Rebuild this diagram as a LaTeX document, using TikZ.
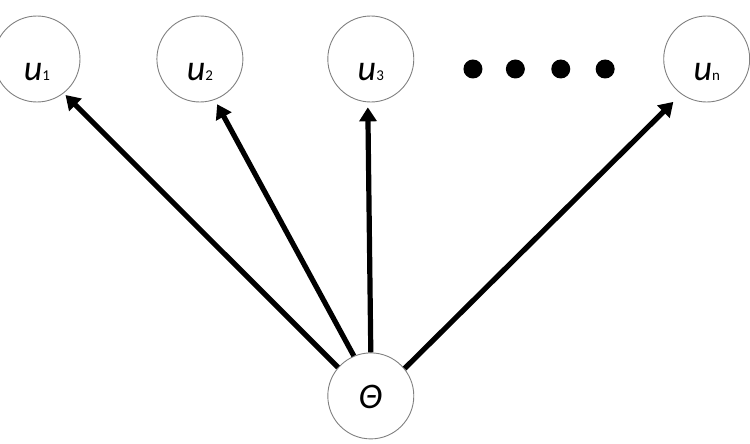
\documentclass[tikz,border=0pt]{standalone}
\usepackage{fontspec}
\setmainfont{Carlito}
\usepackage{tikz}
\usetikzlibrary{positioning,arrows.meta}

\tikzset{
    unode/.style={draw=gray,line width=0.9pt,circle,minimum size=86pt,inner sep=0pt,
        font=\fontsize{36}{36}\selectfont\itshape,text height=44pt,text depth=0pt},
    thetanode/.style={unode,text height=26pt},
    dotnode/.style={fill=black,circle,minimum size=19pt,inner sep=0pt},
    arrow/.style={line width=5.2pt,-{Triangle[length=14pt,width=17pt]}}
}
\newcommand{\subidx}[1]{{\fontsize{15}{15}\selectfont\upshape #1}}

\begin{document}
\begin{tikzpicture}[x=1pt,y=-1pt]
    \useasboundingbox (0,0) rectangle (750,444);

    \node [unode] (u1) at (37,59) {u\subidx{1}};
    \node [unode, right=76pt of u1] (u2) {u\subidx{2}};
    \node [unode, right=84pt of u2] (u3) {u\subidx{3}};
    \node [unode, right=249pt of u3] (un) {u\subidx{n}};
    \node [thetanode, below=250pt of u3] (theta) {Θ};

    % dots between u3 and un
    \node [dotnode, right=49pt of u3, yshift=-10pt] (d1) {};
    \node [dotnode, right=23pt of d1] (d2) {};
    \node [dotnode, right=26pt of d2] (d3) {};
    \node [dotnode, right=25pt of d3] (d4) {};

    \draw [arrow, shorten >=2.5pt] (theta.139) -- (u1.-52);
    \draw [arrow, shorten >=5pt] (theta.113) -- (u2.-70);
    \draw [arrow, shorten >=5pt] (theta.90) -- (u3.-94);
    \draw [arrow, shorten >=11pt] (theta.39) -- (un.-126);
\end{tikzpicture}
\end{document}
